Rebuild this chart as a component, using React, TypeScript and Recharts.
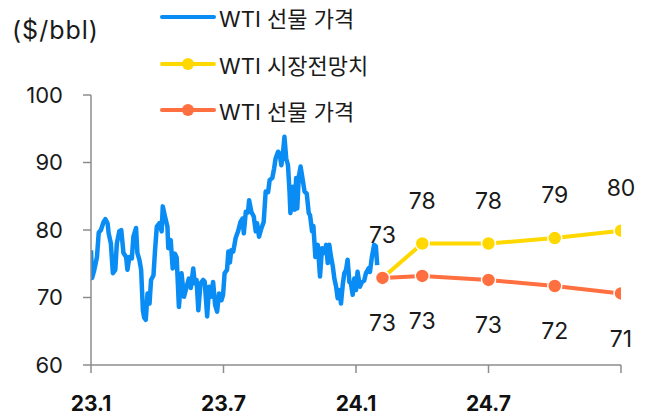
import React from "react";
import {
  LabelList,
  Legend,
  Line,
  LineChart,
  XAxis,
  YAxis,
} from "recharts";

// x = months since Jan 2023, v = $/bbl
const wtiMonths = [
  0, 0.05, 0.15, 0.27, 0.35, 0.45, 0.57, 0.65, 0.75, 0.8, 0.9, 0.99, 1.1, 1.17, 1.28, 1.37,
  1.47, 1.59, 1.65, 1.74, 1.85, 1.92, 2.04, 2.1, 2.19, 2.27, 2.35, 2.41, 2.48, 2.56, 2.65,
  2.72, 2.83, 2.9, 2.98, 3.1, 3.2, 3.25, 3.35, 3.46, 3.5, 3.61, 3.7, 3.8, 3.88, 3.98, 4.1,
  4.21, 4.33, 4.43, 4.52, 4.63, 4.7, 4.78, 4.86, 4.96, 5.08, 5.15, 5.26, 5.35, 5.42, 5.53,
  5.62, 5.71, 5.8, 5.91, 5.98, 6.05, 6.16, 6.22, 6.29, 6.35, 6.44, 6.55, 6.66, 6.77, 6.86,
  6.92, 7.01, 7.11, 7.16, 7.26, 7.37, 7.46, 7.52, 7.61, 7.71, 7.82, 7.91, 8.02, 8.09, 8.21,
  8.29, 8.36, 8.47, 8.54, 8.62, 8.69, 8.76, 8.84, 8.92, 8.99, 9.03, 9.14, 9.22, 9.29, 9.34,
  9.41, 9.49, 9.59, 9.67, 9.77, 9.86, 9.92, 10.01, 10.07, 10.16, 10.27, 10.37, 10.46, 10.57,
  10.65, 10.72, 10.79, 10.87, 10.95, 11.02, 11.1, 11.17, 11.25, 11.32, 11.4, 11.47, 11.55,
  11.62, 11.7, 11.77, 11.85, 11.92, 12.0, 12.07, 12.18, 12.27, 12.37, 12.45, 12.57, 12.63,
  12.72, 12.82, 12.9, 12.96,
];
const wtiPrices = [
  77.0, 72.9, 74.1, 76.0, 79.6, 80.0, 81.2, 81.6, 81.0, 79.5, 78.0, 73.6, 74.1, 78.0, 79.8, 80.0,
  76.6, 76.0, 74.1, 76.0, 75.8, 79.0, 80.3, 76.6, 75.6, 74.1, 68.1, 67.0, 66.7, 70.6, 69.1,
  72.6, 73.3, 77.0, 80.5, 81.0, 79.8, 83.5, 82.0, 80.5, 77.3, 78.5, 74.3, 76.5, 75.9, 68.6, 73.6,
  70.1, 71.6, 72.8, 71.4, 74.3, 72.1, 72.6, 68.1, 72.1, 72.6, 72.3, 67.2, 71.6, 70.1, 72.3,
  68.9, 67.9, 70.6, 69.6, 70.4, 73.6, 74.1, 76.8, 75.2, 77.0, 76.8, 78.8, 79.8, 81.2, 81.7,
  79.5, 82.7, 82.6, 84.4, 82.7, 82.0, 79.8, 81.0, 79.0, 80.2, 81.2, 85.7, 85.6, 87.4, 87.7,
  89.1, 90.6, 91.6, 91.3, 89.6, 91.3, 93.8, 90.6, 89.6, 85.7, 82.5, 86.4, 83.0, 87.7, 83.2,
  87.9, 89.4, 87.4, 85.7, 85.4, 82.5, 82.2, 79.8, 80.6, 76.0, 77.8, 73.1, 77.3, 76.6,
  77.8, 75.1, 77.8, 76.0, 74.6, 72.8, 71.6, 69.9, 71.1, 69.1, 71.9, 73.6, 74.1,
  75.6, 72.3, 72.1, 70.4, 72.8, 71.1, 73.8, 71.6, 72.3, 72.5, 73.6, 74.3, 73.8,
  76.0, 77.8, 77.6, 74.8,
];

const forecastMonths = [13.2, 15, 18, 21, 24];
const marketOutlook = [72.9, 78.0, 78.0, 78.8, 79.9];
const futuresCurve = [72.9, 73.2, 72.6, 71.7, 70.6];

const xTicks = [0, 6, 12, 18, 24];
const xTickLabels = ["23.1", "23.7", "24.1", "24.7", ""];
const yTicks = [60, 70, 80, 90, 100];

const seriesNames = ["WTI 선물 가격", "WTI 시장전망치", "WTI 선물 가격"];

const BLUE = "#0a8cf5";
const YELLOW = "#ffd800";
const ORANGE = "#ff6f3f";
const AXIS = "#8c8c8c";
const FONT = "Inter, 'Noto Sans CJK KR', sans-serif";

const wtiData = wtiMonths.map((m, i) => ({ m, v: wtiPrices[i] }));
const outlookData = forecastMonths.map((m, i) => ({ m, v: marketOutlook[i] }));
const curveData = forecastMonths.map((m, i) => ({ m, v: futuresCurve[i] }));

function LegendBox() {
  const items = [
    { name: seriesNames[0], color: BLUE, dot: false },
    { name: seriesNames[1], color: YELLOW, dot: true },
    { name: seriesNames[2], color: ORANGE, dot: true },
  ];
  return (
    <div>
      {items.map((it, i) => (
        <div
          key={i}
          style={{ display: "flex", alignItems: "center", height: 46.5, fontSize: 22, color: "#1a1a1a", whiteSpace: "nowrap" }}
        >
          <svg width={56} height={14} style={{ marginRight: 3 }}>
            <line x1={2} y1={7} x2={54} y2={7} stroke={it.color} strokeWidth={4} strokeLinecap="round" />
            {it.dot && <circle cx={28} cy={7} r={6} fill={it.color} />}
          </svg>
          <span>{it.name}</span>
        </div>
      ))}
    </div>
  );
}

export default function App() {
  return (
    <div style={{ position: "absolute", left: 0, top: 0, width: 650, height: 419, fontFamily: FONT, background: "#fff" }}>
      <div style={{ position: "absolute", left: 12, top: 14, fontSize: 25, letterSpacing: 1, color: "#1a1a1a", lineHeight: "32px" }}>
        ($/bbl)
      </div>
      <LineChart width={650} height={419} margin={{ top: 95, right: 29, bottom: 0, left: 0 }}>
        <XAxis
          type="number"
          dataKey="m"
          domain={[0, 24]}
          ticks={xTicks}
          tickFormatter={(t: number) => xTickLabels[xTicks.indexOf(t)] ?? ""}
          allowDataOverflow
          height={54}
          stroke={AXIS}
          strokeWidth={1.5}
          tickSize={8}
          tickMargin={23}
          tick={{ fill: "#111", fontSize: 21, fontWeight: 700, fontFamily: FONT }}
        />
        <YAxis
          type="number"
          domain={[60, 100]}
          ticks={yTicks}
          width={91}
          stroke={AXIS}
          strokeWidth={1.5}
          tickSize={8}
          tickMargin={20}
          tick={{ fill: "#1a1a1a", fontSize: 22, fontFamily: FONT }}
        />
        <Legend
          layout="vertical"
          align="center"
          verticalAlign="middle"
          wrapperStyle={{ left: 160, top: -6, width: 320 }}
          content={() => <LegendBox />}
        />
        <Line
          data={wtiData}
          dataKey="v"
          name={seriesNames[0]}
          type="linear"
          stroke={BLUE}
          strokeWidth={4.5}
          strokeLinejoin="round"
          dot={false}
          activeDot={false}
          isAnimationActive={false}
        />
        <Line
          data={outlookData}
          dataKey="v"
          name={seriesNames[1]}
          type="linear"
          stroke={YELLOW}
          strokeWidth={4}
          dot={{ r: 7, fill: YELLOW, stroke: "#fff", strokeWidth: 1.5 }}
          activeDot={false}
          isAnimationActive={false}
        >
          <LabelList
            dataKey="v"
            position="top"
            offset={35}
            formatter={(v: number) => Math.round(v)}
            style={{ fill: "#1a1a1a", fontSize: 23, fontFamily: FONT }}
          />
        </Line>
        <Line
          data={curveData}
          dataKey="v"
          name={seriesNames[2]}
          type="linear"
          stroke={ORANGE}
          strokeWidth={4}
          dot={{ r: 7, fill: ORANGE, stroke: "#fff", strokeWidth: 1.5 }}
          activeDot={false}
          isAnimationActive={false}
        >
          <LabelList
            dataKey="v"
            position="bottom"
            offset={37}
            formatter={(v: number) => Math.round(v)}
            style={{ fill: "#1a1a1a", fontSize: 23, fontFamily: FONT }}
          />
        </Line>
      </LineChart>
    </div>
  );
}
